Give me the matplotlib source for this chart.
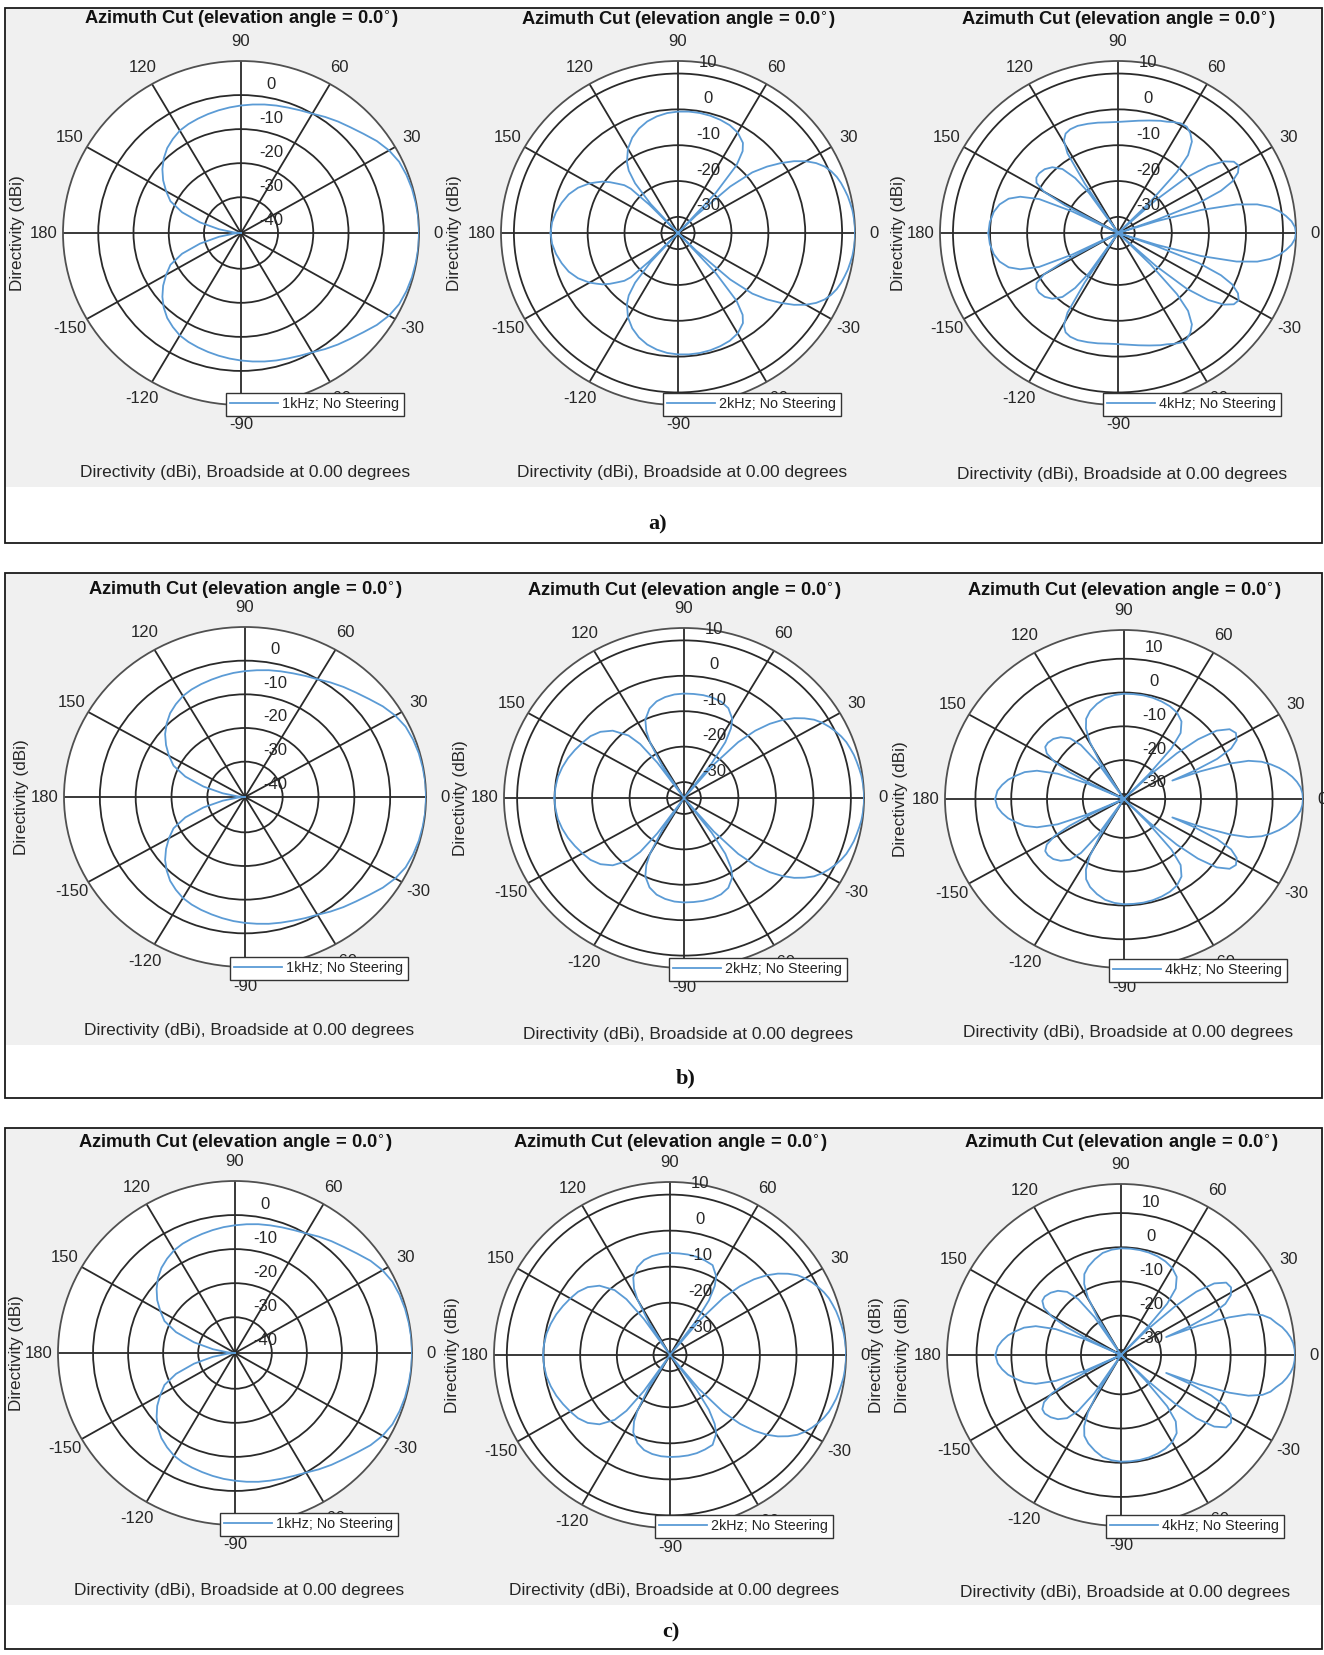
import numpy as np
import matplotlib
matplotlib.use("Agg")
import matplotlib.pyplot as plt
from matplotlib.patches import Rectangle

plt.rcParams['font.family'] = ['Liberation Sans', 'DejaVu Sans']

W, H = 1324, 1655

# ---------------- data (directivity in dBi vs azimuth in degrees, 0..180, mirrored for negative azimuth) ----------------
ang_1k = [0, 5, 10, 15, 20, 25, 30, 35, 40, 45, 50, 55, 60, 65, 70, 75, 80, 85, 90,
          95, 100, 105, 110, 115, 120, 125, 130, 135, 140, 145, 150, 155, 160, 165, 170, 175, 180]
a_1k = [10.0, 10.0, 9.86, 9.71, 9.43, 9.0, 8.0, 6.56, 4.83, 3.4, 2.25, 1.1, -0.04, -0.76, -1.33, -1.76, -2.19, -2.63, -3.06,
        -3.49, -3.92, -4.35, -4.78, -5.21, -5.78, -6.79, -7.93, -9.51, -11.38, -13.53, -15.97, -18.41, -22.71, -28.45, -34.19, -38.5, -60]
b_1k = [10.0, 10.0, 9.86, 9.7, 9.4, 8.95, 7.9, 6.45, 4.75, 3.35, 2.2, 1.05, -0.1, -0.8, -1.4, -1.85, -2.25, -2.7, -3.1,
        -3.5, -3.95, -4.4, -4.8, -5.25, -5.85, -6.85, -8.0, -9.6, -11.4, -13.6, -16.0, -18.5, -22.8, -28.5, -34.2, -38.5, -60]
c_1k = [10.0, 10.0, 9.86, 9.72, 9.45, 9.05, 8.1, 6.7, 4.95, 3.5, 2.35, 1.2, 0.05, -0.7, -1.25, -1.7, -2.1, -2.55, -3.0,
        -3.4, -3.85, -4.3, -4.7, -5.1, -5.7, -6.7, -7.85, -9.4, -11.3, -13.4, -15.9, -18.3, -22.6, -28.4, -34.1, -38.5, -60]

ang_a2k = [0, 2.5, 5, 7.5, 10, 12.5, 15, 17.5, 20, 22.5, 25, 27.5, 30, 32.5, 35, 37.5, 40, 42.5, 45, 46,
           47.5, 50, 52.5, 55, 60, 65, 70, 75, 80, 85, 90, 95, 100, 105, 110, 115, 120, 125, 127.5, 130,
           132.5, 133.5, 134.5, 136, 137.5, 140, 142.5, 145, 147.5, 150, 155, 160, 165, 170, 175, 180]
a_2k = [13.5, 13.5, 13.37, 13.23, 12.95, 12.68, 12.27, 11.86, 11.31, 10.49, 9.39, 7.74, 5.55, 2.8, -0.49, -4.05, -8.17, -15.3, -27.6, -60,
        -19.4, -9.8, -5.7, -3.8, -2.13, -1.31, -0.9, -0.62, -0.49, -0.49, -0.62, -0.9, -1.45, -2.27, -3.5, -5.15, -7.34, -10.36, -12.56, -16.4,
        -23.5, -60, -23.5, -16.7, -14.75, -13.1, -11.2, -9.5, -8.2, -6.8, -4.6, -2.96, -1.86, -0.9, -0.21, 0.06]

ang_bc2k = [0, 2.5, 5, 7.5, 10, 12.5, 15, 17.5, 20, 22.5, 25, 27.5, 30, 32.5, 35, 37.5, 40, 42.5, 45, 47.5,
            50, 51.5, 53, 55, 57.5, 60, 65, 70, 75, 80, 85, 90, 95, 100, 105, 110, 115, 118, 120, 122.5,
            124, 125.5, 127.5, 130, 135, 140, 145, 150, 155, 160, 165, 170, 175, 180]
b_2k = [13.5, 13.5, 13.37, 13.23, 12.95, 12.68, 12.41, 11.99, 11.58, 10.9, 10.07, 9.11, 8.02, 6.65, 4.72, 2.53, -0.21, -3.5, -7.62, -13.1,
        -22.2, -60, -22.2, -15.3, -11.2, -8.72, -6.52, -5.56, -5.15, -5.01, -5.01, -5.01, -5.15, -5.56, -6.25, -7.62, -10.1, -13.1, -16.4, -23.5,
        -60, -22.2, -15.3, -11.46, -7.62, -5.42, -4.05, -3.23, -2.41, -1.58, -0.9, -0.35, -0.08, 0.06]
c_2k = [13.5, 13.5, 13.37, 13.23, 12.95, 12.68, 12.41, 12.0, 11.6, 10.95, 10.1, 9.15, 8.05, 6.7, 4.8, 2.6, -0.1, -3.4, -7.5, -13.0,
        -22.2, -60, -22.5, -16.0, -11.8, -9.3, -7.0, -6.6, -6.3, -6.2, -6.2, -6.2, -6.3, -6.6, -7.2, -8.5, -10.8, -13.6, -16.8, -23.8,
        -60, -22.2, -15.0, -11.0, -7.3, -5.2, -3.9, -3.1, -2.3, -1.5, -0.85, -0.3, 0.0, 0.1]

ang_a4k = [0, 2, 4, 6, 8, 10, 12, 14, 16, 17.5, 18.5, 19.5, 21, 23, 25, 27.5, 30, 32.5, 35, 37.5,
           40, 42, 43.5, 45, 47, 49, 52, 55, 58, 61, 64, 67, 70, 75, 80, 85, 90, 95, 100, 105,
           110, 114, 117, 119.5, 121.5, 123, 124, 125, 127, 130, 134, 138, 142, 145, 147.5, 150, 151.5, 153, 154, 156,
           159, 162, 166, 170, 175, 180]
a_4k = [13.5, 13.23, 12.41, 11.03, 9.39, 7.19, 3.9, -1.58, -11.2, -23.5, -60, -23.5, -11.2, -4.33, -0.49, 1.98, 3.08, 2.53, 0.34, -3.78,
        -10.36, -20.8, -60, -22.2, -11.2, -5.7, -2.13, -0.49, 0.47, 0.47, -0.08, -0.76, -1.17, -2.0, -2.68, -3.23, -3.5, -3.5, -3.23, -2.95,
        -2.68, -2.82, -3.37, -4.88, -8.44, -18.04, -60, -20.8, -15.3, -11.2, -8.99, -7.89, -7.48, -7.62, -8.44, -11.46, -18.04, -60, -20.8, -11.2,
        -6.25, -3.5, -1.58, -0.49, 0.2, 0.47]

ang_bc4k = [0, 2, 4, 6, 8, 10, 12, 14, 16, 18, 19.5, 21, 22, 23, 24.5, 26.5, 29, 32, 35, 38,
            40.5, 42.5, 44.5, 45.5, 46.5, 48.5, 51, 55, 60, 65, 70, 75, 80, 85, 90, 95, 100, 105, 110, 114,
            117, 119.5, 121.5, 123, 124.5, 127, 130, 134, 138, 142, 145, 148, 150.5, 152.5, 154, 155, 156, 158, 161, 164,
            167, 170, 173, 176, 180]
b_4k = [18.5, 18.36, 17.93, 17.07, 15.93, 14.5, 12.79, 10.79, 8.5, 5.07, -0.07, -8.64, -16.93, -10.07, -2.93, 1.93, 4.5, 5.36, 4.5, 1.36,
        -4.36, -11.5, -21.5, -60, -21.5, -11.5, -6.36, -3.5, -1.93, -1.21, -0.79, -0.5, -0.36, -0.36, -0.36, -0.64, -1.21, -2.36, -3.79, -5.5,
        -8.07, -12.07, -18.64, -60, -18.64, -11.5, -8.07, -6.07, -4.93, -4.5, -4.64, -6.07, -9.21, -14.36, -21.5, -60, -20.07, -11.5, -5.79, -2.64,
        -0.64, 1.36, 2.79, 3.93, 4.5]
c_4k = [18.5, 18.4, 18.1, 17.5, 16.6, 15.5, 14.0, 12.8, 10.8, 7.0, 1.5, -7.5, -17.5, -10.0, -3.0, 2.0, 4.6, 5.8, 5.4, 2.5,
        -3.0, -10.5, -21.0, -60, -21.5, -11.5, -6.5, -3.6, -2.1, -1.3, -0.8, -0.5, -0.35, -0.3, -0.3, -0.6, -1.2, -2.5, -4.0, -5.6,
        -8.2, -12.2, -18.6, -60, -18.0, -11.0, -7.4, -5.4, -4.3, -3.7, -3.9, -5.4, -8.6, -14.0, -21.5, -60, -20.0, -11.3, -5.6, -2.5,
        -0.5, 1.5, 2.9, 4.0, 4.6]

freq_labels = ['1kHz; No Steering', '2kHz; No Steering', '4kHz; No Steering']
theta_labels = ['0', '30', '60', '90', '120', '150', '180', '-150', '-120', '-90', '-60', '-30']
title_txt = 'Azimuth Cut (elevation angle = 0.0$^{\\circ}$)'
xlabel_txt = 'Directivity (dBi), Broadside at 0.00 degrees'
ylabel_txt = 'Directivity (dBi)'
panel_letters = ['a)', 'b)', 'c)']

rings_1k = [-40, -30, -20, -10, 0]
rings_hi = [-30, -20, -10, 0, 10]

# ---------------- layout ----------------
LINE = '#5b9bd5'
GRID = '#2a2a2a'
TXT = '#262626'
GRAYBG = '#f0f0f0'

fig = plt.figure(figsize=(W / 100, H / 100), dpi=100)
fig.patch.set_facecolor('white')

bg = fig.add_axes([0, 0, 1, 1], zorder=0)
bg.set_xlim(0, W)
bg.set_ylim(H, 0)
bg.axis('off')

# panels: (top, gray_bottom, bottom, letter_x, letter_y)
panels = [(8, 487, 543, 658, 524), (573, 1045, 1098, 686, 1078), (1128, 1605, 1649, 671, 1632)]
for (top, gb, bot, lx, ly), letter in zip(panels, panel_letters):
    bg.add_patch(Rectangle((6, top), 1315, gb - top, facecolor=GRAYBG, edgecolor='none'))
    bg.add_patch(Rectangle((5, top), 1317, bot - top, facecolor='none', edgecolor='#1a1a1a', lw=1.3))
    bg.text(lx, ly, letter, family=['Liberation Serif', 'DejaVu Serif'], weight='bold', fontsize=16,
            ha='center', va='center', color='#111111')

# plot specs: cx, cy, rx, ry, rlim, rings, angles, values, freq index, title_y, xlabel_y, ylabel_xs
specs = [
    (241, 233, 178, 172, (-40.5, 10), rings_1k, ang_1k, a_1k, 0, 19, 472, [18]),
    (678, 233, 177, 172, (-34.5, 13.5), rings_hi, ang_a2k, a_2k, 1, 20, 472, [455]),
    (1118, 233, 178, 172, (-34.5, 13.5), rings_hi, ang_a4k, a_4k, 2, 20, 474, [898]),
    (245, 797, 181, 170, (-40.5, 10), rings_1k, ang_1k, b_1k, 0, 590, 1031, [22]),
    (684, 798, 180, 170, (-34.5, 13.5), rings_hi, ang_bc2k, b_2k, 1, 591, 1034, [461]),
    (1124, 799, 179, 169, (-31.5, 18.5), rings_hi, ang_bc4k, b_4k, 2, 591, 1033, [900]),
    (235, 1353, 177, 172, (-40.5, 10), rings_1k, ang_1k, c_1k, 0, 1143, 1591, [17]),
    (670, 1355, 176, 173, (-34.5, 13.5), rings_hi, ang_bc2k, c_2k, 1, 1143, 1591, [453]),
    (1121, 1355, 174, 171, (-31.5, 18.5), rings_hi, ang_bc4k, c_4k, 2, 1143, 1593, [877, 903]),
]

for (cx, cy, rx, ry, (rmin, rmax), rings, ang, val, fi, ty, xly, ylxs) in specs:
    ax = fig.add_axes([(cx - rx) / W, 1 - (cy + ry) / H, 2 * rx / W, 2 * ry / H],
                      projection='polar', zorder=2)
    ax.set_aspect('auto')
    ax.set_facecolor('white')
    a = np.asarray(ang, dtype=float)
    v = np.asarray(val, dtype=float)
    th = np.deg2rad(np.concatenate([-a[::-1], a[1:]]))
    rv = np.concatenate([v[::-1], v[1:]])
    ax.plot(th, np.clip(rv, rmin, rmax), color=LINE, lw=1.3, label=freq_labels[fi], zorder=3)
    ax.set_ylim(rmin, rmax)
    ax.set_yticks(rings)
    ax.set_yticklabels([])
    ax.set_xticks(np.deg2rad(np.arange(0, 360, 30)))
    ax.set_xticklabels(theta_labels)
    ax.tick_params(axis='x', pad=3.5, labelsize=12, labelcolor=TXT)
    ax.grid(True, color=GRID, lw=1.3)
    ax.spines['polar'].set_color('#505050')
    ax.spines['polar'].set_linewidth(1.3)
    for rt in rings:
        ax.annotate(str(rt), xy=(np.pi / 2, rt), xytext=(30, 11), textcoords='offset pixels',
                    ha='center', va='center', fontsize=12, color=TXT, zorder=4)
    leg = ax.legend(loc='upper left', bbox_to_anchor=((cx - 15) / W, 1 - (cy + 160) / H),
                    bbox_transform=fig.transFigure, fancybox=False, framealpha=1,
                    edgecolor='#333333', fontsize=10.4, handlelength=3.3, handletextpad=0.3,
                    borderpad=0.3, borderaxespad=0)
    leg.get_frame().set_linewidth(1.0)
    for t in leg.get_texts():
        t.set_color(TXT)
    fig.text(cx / W, 1 - ty / H, title_txt, ha='center', va='center', fontsize=13.2,
             weight='bold', color='#111111')
    fig.text((cx + 4) / W, 1 - xly / H, xlabel_txt, ha='center', va='center', fontsize=12.5, color=TXT)
    for ylx in ylxs:
        fig.text(ylx / W, 1 - cy / H, ylabel_txt, rotation=90, ha='center', va='center',
                 fontsize=12.3, color=TXT)

fig.savefig('out.png', dpi=100, facecolor='white')
